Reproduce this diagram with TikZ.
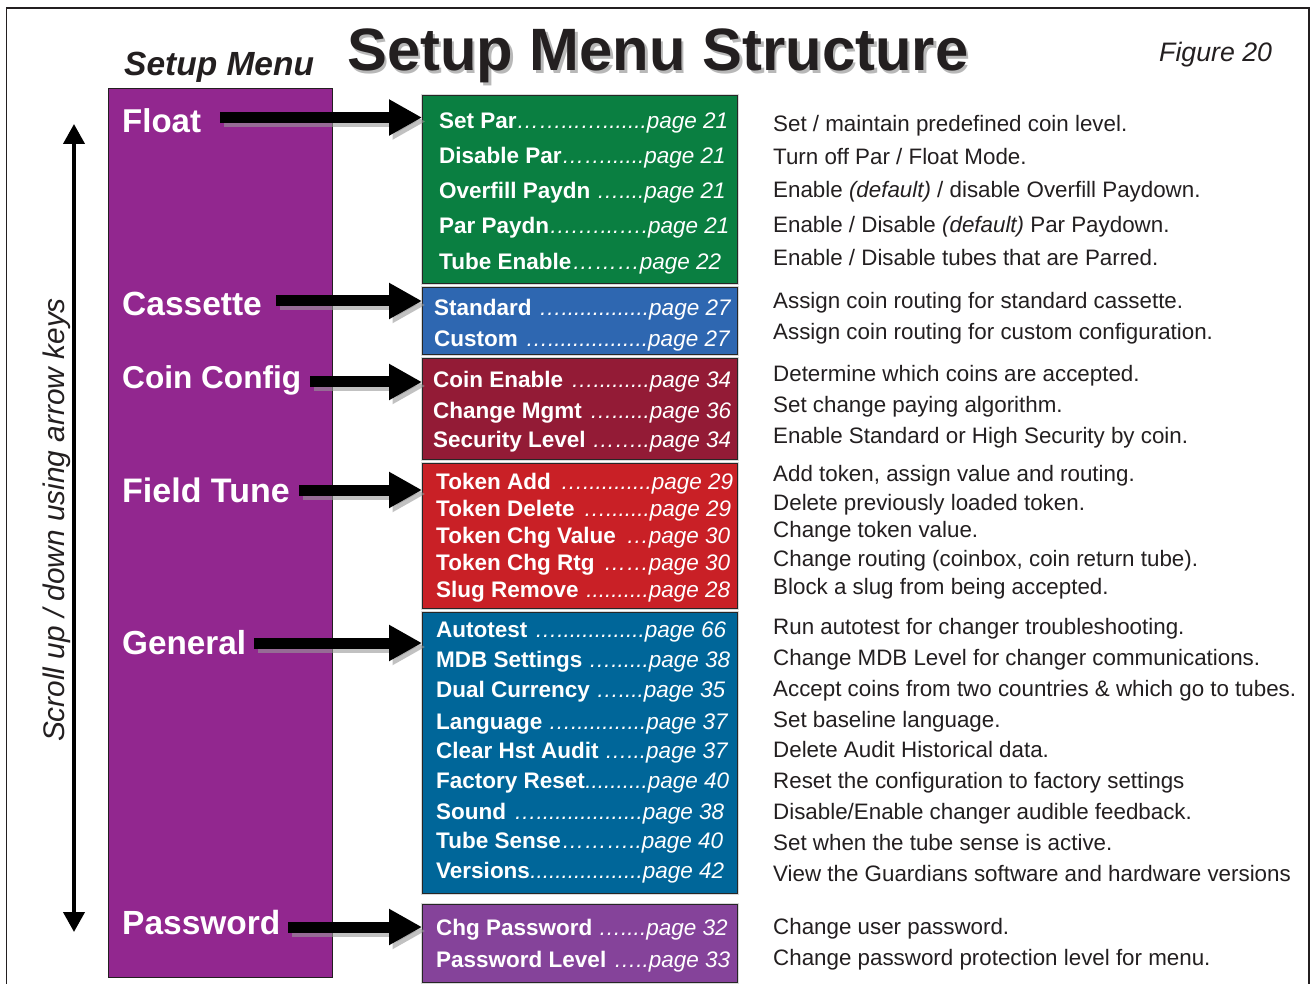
\documentclass[tikz,border=0pt]{standalone}
\usepackage{fontspec}
\setmainfont{Liberation Sans}
\usetikzlibrary{arrows.meta}
\definecolor{menupurple}{HTML}{92278F}
\definecolor{fgreen}{HTML}{0A7F41}
\definecolor{fblue}{HTML}{2E67B1}
\definecolor{fmaroon}{HTML}{931B36}
\definecolor{fred}{HTML}{C92026}
\definecolor{fteal}{HTML}{006699}
\definecolor{fviolet}{HTML}{85439A}
\definecolor{ink}{HTML}{231F20}
\newcommand{\fsz}[1]{\fontsize{#1pt}{#1pt}\selectfont}
\newcommand{\mrow}[7]{\node[rowtext] (#1) at (#2,#4) {\makebox[\dimexpr #3pt-#2pt\relax][l]{\textbf{#5}\hfill\textit{#6page #7}}};}
\newcommand{\drow}[4]{\node[desc] (#1) at (773,#2) {#3};}
\newcommand{\subbox}[6]{\node[subbox,fill=#6,minimum width=\dimexpr #4pt-#2pt\relax,minimum height=\dimexpr #5pt-#3pt\relax] (#1) at (#2,#3) {};}
\newcommand{\bigarr}[3]{\coordinate (#1s) at (#2,#3); \coordinate (#1t) at (422,#3);
  \draw[arrshadow] ([shift={(3.5,4)}]#1s) -- ([shift={(3.5,4)}]#1t);
  \draw[bigarrow] (#1s) -- (#1t);}
\tikzset{
  rowtext/.style={anchor=base west,inner sep=0pt,text=white,font=\fsz{22.5}},
  desc/.style={anchor=base west,inner sep=0pt,text=ink,font=\fsz{22.35}},
  menulabel/.style={anchor=base west,inner sep=0pt,text=white,font=\fsz{33}\bfseries},
  subbox/.style={draw=black!85,line width=1.3pt,anchor=north west,inner sep=0pt,preaction={draw=black!15,line width=3.5pt}},
  bigarrow/.style={draw=black,line width=11pt,-{Triangle[length=33pt,width=34pt]},shorten >=0pt},
  arrshadow/.style={draw=black!40,opacity=.6,line width=11pt,-{Triangle[length=33pt,width=34pt]}},
  scrollarrow/.style={draw=black,line width=4pt,{Triangle[length=20pt,width=21pt]}-{Triangle[length=20pt,width=21pt]}}
}
\begin{document}
\begin{tikzpicture}[x=1pt,y=-1pt]
\useasboundingbox (0,0) rectangle (1310,984);
\fill[white] (0,0) rectangle (1310,984);
% frame
\draw[draw=ink,line width=1.3pt] (6.5,984) -- (6.5,8) -- (1309,8) -- (1309,984);
% titles
\node[anchor=base west,inner sep=0pt,text=black!28,font=\fsz{59.8}\bfseries] (titleshadow) at (349.5,73.5) {Setup Menu Structure};
\node[anchor=base west,inner sep=0pt,text=ink,font=\fsz{59.8}\bfseries] (title) at (347,71) {Setup Menu Structure};
\node[anchor=base west,inner sep=0pt,text=ink,font=\fsz{33.5}\bfseries\itshape] (setupmenu) at (124,76) {Setup Menu};
\node[anchor=base west,inner sep=0pt,text=ink,font=\fsz{26.7}\itshape] (figure) at (1159,62) {Figure 20};
% left column
\node[draw=ink,line width=1.3pt,fill=menupurple,anchor=north west,inner sep=0pt,minimum width=224pt,minimum height=889pt] (menu) at (108,88) {};
\coordinate (scrolltop) at (74,124);
\coordinate (scrollbot) at (74,932);
\draw[scrollarrow] (scrolltop) -- (scrollbot);
\node[rotate=90,inner sep=0pt,text=ink,font=\fsz{29.8}\itshape] (scroll) at (56.5,520) {Scroll up / down using arrow keys};
% boxes
\subbox{bfloat}{422}{95}{737}{283}{fgreen}
\subbox{bcass}{422}{287}{737}{354}{fblue}
\subbox{bcoin}{422}{358}{737}{459}{fmaroon}
\subbox{bfield}{422}{463}{737}{608}{fred}
\subbox{bgen}{422}{612}{737}{893}{fteal}
\subbox{bpass}{422}{904}{737}{982}{fviolet}
% menu labels
\node[menulabel] (lfloat) at (122,133) {Float};
\node[menulabel,font=\fsz{33.5}\bfseries] (lcass) at (122,316) {Cassette};
\node[menulabel,font=\fsz{31.6}\bfseries] (lcoin) at (122,388.5) {Coin Config};
\node[menulabel,font=\fsz{34}\bfseries] (lfield) at (122,502) {Field Tune};
\node[menulabel,font=\fsz{33.3}\bfseries] (lgen) at (122,654) {General};
\node[menulabel,font=\fsz{33.5}\bfseries] (lpass) at (122,934) {Password};
% arrows
\bigarr{a}{220}{117.5}
\bigarr{b}{276}{301}
\bigarr{c}{310}{382}
\bigarr{d}{299}{490}
\bigarr{e}{254}{643}
\bigarr{f}{288}{927}
% rows
\mrow{r1}{439}{725}{129}{Set Par}{……...….......}{21}
\mrow{r2}{439}{725}{164}{Disable Par}{……......}{21}
\mrow{r3}{439}{725}{199}{Overfill Paydn }{…....}{21}
\mrow{r4}{439}{729}{234}{Par Paydn}{….…...….}{21}
\mrow{r5}{439}{721}{270}{Tube Enable}{………}{22}
\mrow{r6}{434}{731}{316}{Standard }{…..............}{27}
\mrow{r7}{434}{730}{347}{Custom }{…................}{27}
\mrow{r8}{433}{731}{388}{Coin Enable }{….........}{34}
\mrow{r9}{433}{731}{418}{Change Mgmt }{…......}{36}
\mrow{r10}{433}{731}{447}{Security Level }{……..}{34}
\mrow{r11}{436}{733}{489}{Token Add }{…...........}{29}
\mrow{r12}{436}{731}{516}{Token Delete }{….......}{29}
\mrow{r13}{436}{730}{543}{Token Chg Value }{…}{30}
\mrow{r14}{436}{730}{570}{Token Chg Rtg }{……}{30}
\mrow{r15}{436}{730}{597}{Slug Remove }{..........}{28}
\mrow{r16}{436}{726}{637}{Autotest }{…..............}{66}
\mrow{r17}{436}{730}{667}{MDB Settings }{…......}{38}
\mrow{r18}{436}{725}{697}{Dual Currency }{…....}{35}
\mrow{r19}{436}{728}{729}{Language }{…............}{37}
\mrow{r20}{436}{727}{758}{Clear Hst Audit }{…...}{37}
\mrow{r21}{436}{729}{788}{Factory Reset}{..........}{40}
\mrow{r22}{436}{724}{819}{Sound }{….................}{38}
\mrow{r23}{436}{723}{848}{Tube Sense}{………..}{40}
\mrow{r24}{436}{724}{878}{Versions}{..................}{42}
\mrow{r25}{436}{727}{935}{Chg Password }{…....}{32}
\mrow{r26}{436}{730}{967}{Password Level }{…..}{33}
% descriptions
\drow{d1}{132}{Set / maintain predefined coin level.}{}
\drow{d2}{165}{Turn off Par / Float Mode.}{}
\drow{d3}{198}{Enable \textit{(default)} / disable Overfill Paydown.}{}
\drow{d4}{233}{Enable / Disable \textit{(default)} Par Paydown.}{}
\drow{d5}{266}{Enable / Disable tubes that are Parred.}{}
\drow{d6}{309}{Assign coin routing for standard cassette.}{}
\drow{d7}{340}{Assign coin routing for custom configuration.}{}
\drow{d8}{382}{Determine which coins are accepted.}{}
\drow{d9}{413}{Set change paying algorithm.}{}
\drow{d10}{443}{Enable Standard or High Security by coin.}{}
\drow{d11}{481}{Add token, assign value and routing.}{}
\drow{d12}{510}{Delete previously loaded token.}{}
\drow{d13}{537}{Change token value.}{}
\drow{d14}{566}{Change routing (coinbox, coin return tube).}{}
\drow{d15}{594}{Block a slug from being accepted.}{}
\drow{d16}{634}{Run autotest for changer troubleshooting.}{}
\drow{d17}{665}{Change MDB Level for changer communications.}{}
\drow{d18}{696}{Accept coins from two countries \& which go to tubes.}{}
\drow{d19}{727}{Set baseline language.}{}
\drow{d20}{757}{Delete Audit Historical data.}{}
\drow{d21}{788}{Reset the configuration to factory settings}{}
\drow{d22}{819}{Disable/Enable changer audible feedback.}{}
\drow{d23}{850}{Set when the tube sense is active.}{}
\drow{d24}{881}{View the Guardians software and hardware versions}{}
\drow{d25}{934}{Change user password.}{}
\drow{d26}{965}{Change password protection level for menu.}{}
\end{tikzpicture}
\end{document}
